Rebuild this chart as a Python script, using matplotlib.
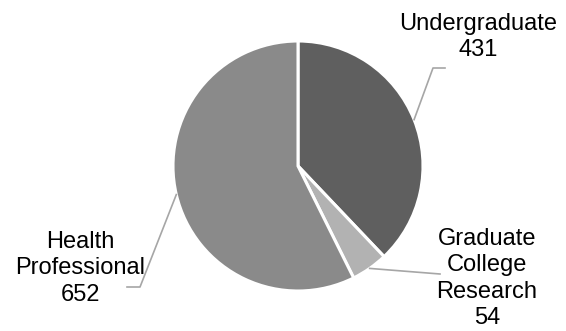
import numpy as np
import matplotlib.pyplot as plt

plt.rcParams['font.family'] = ['Liberation Sans', 'DejaVu Sans']

categories = ['Undergraduate', 'Graduate\nCollege\nResearch', 'Health\nProfessional']
counts = [431, 54, 652]
colors = ['#5f5f5f', '#b2b2b2', '#8a8a8a']

# label placement (data units, pie radius = 1): text centre, leader path after the wedge edge
text_pos = [(1.44, 1.03), (1.51, -0.90), (-1.74, -0.82)]
leader_pts = [[(1.08, 0.784), (1.176, 0.784)],
              [(1.136, -0.864)],
              [(-1.264, -0.968), (-1.368, -0.968)]]

fig = plt.figure(figsize=(5.66, 3.31), dpi=100)
ax = fig.add_axes([173 / 566, (331 - 291) / 331, 250 / 566, 250 / 331])

wedges, _ = ax.pie(counts, colors=colors, startangle=90, counterclock=False,
                   wedgeprops=dict(edgecolor='white', linewidth=2.2))
ax.set_xlim(-1, 1)
ax.set_ylim(-1, 1)
ax.set_aspect('equal')
ax.axis('off')

for w, name, n, tp, pts in zip(wedges, categories, counts, text_pos, leader_pts):
    mid = np.radians((w.theta1 + w.theta2) / 2)
    xs = [np.cos(mid)] + [p[0] for p in pts]
    ys = [np.sin(mid)] + [p[1] for p in pts]
    ax.plot(xs, ys, color='#a6a6a6', lw=1.2, clip_on=False)
    ax.text(tp[0], tp[1], f'{name}\n{n}', ha='center', va='center',
            fontsize=17, color='black', linespacing=1.25)

fig.savefig('out.png', dpi=100)
